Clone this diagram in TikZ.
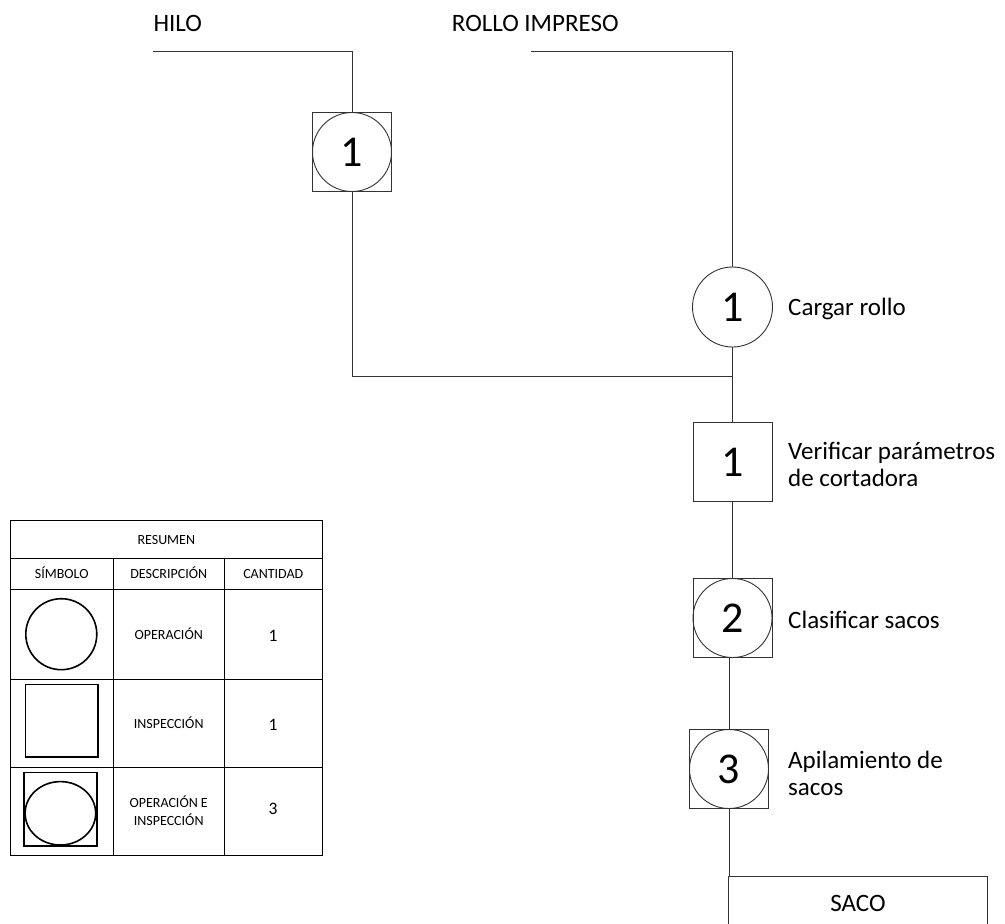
\documentclass[tikz,border=0pt]{standalone}
\usepackage{fontspec}
\setmainfont{Carlito}
\begin{document}
\begin{tikzpicture}[x=1pt,y=-1pt,
  flow/.style={draw=black!80, line width=0.9pt},
  sqbox/.style={flow, rectangle, minimum size=79pt, inner sep=0pt, font=\fontsize{44}{44}\selectfont},
  opcirc/.style={flow, circle, minimum size=80pt, inner sep=0pt, font=\fontsize{44}{44}\selectfont},
  lbl/.style={font=\fontsize{25}{27}\selectfont, align=left, inner sep=0pt},
  cell/.style={font=\fontsize{14}{18.4}\selectfont, align=center, inner sep=0pt, anchor=base},
  cellnum/.style={font=\fontsize{17.5}{18}\selectfont, inner sep=0pt, anchor=base},
  grid/.style={draw=black, line width=1pt},
  legend/.style={draw=black, line width=1.6pt}
]
\useasboundingbox (0,0) rectangle (1005,924);
\clip (0,0) rectangle (1005,924);

% raw material titles
\node[lbl, anchor=base west] (hilo) at (153.3,31.7) {HILO};
\node[lbl, anchor=base west] (rollo) at (451.7,31.7) {ROLLO IMPRESO};

% entry lines
\coordinate (h0) at (153,51);
\coordinate (h1) at (352,51);
\coordinate (r0) at (531,51);
\coordinate (r1) at (732.5,51);

% process symbols
\node[sqbox] (oi1) at (352,152) {1};
\draw[flow] (oi1.center) circle (39.5pt);
\node[opcirc] (op1) at (732.5,307) {1};
\coordinate (j) at (732.5,376);
\coordinate (jl) at (352,376);
\node[sqbox] (in1) at (732.5,462) {1};
\node[sqbox] (oi2) at (732.5,618) {2};
\draw[flow] (oi2.center) circle (39.5pt);
\node[sqbox] (oi3) at (729,769) {3};
\draw[flow] (oi3.center) circle (39.5pt);
\node[flow, rectangle, anchor=north west, minimum width=258.5pt, minimum height=54pt,
      inner sep=0pt, font=\fontsize{25}{27}\selectfont] (saco) at (728.3,875.7) {SACO};

% step descriptions (multi-line nodes sit on the baseline of their last line)
\node[lbl, anchor=base west] (t1) at (788,315.5) {Cargar rollo};
\node[lbl, anchor=base west] (t2) at (788,486.5) {Verificar parámetros\\de cortadora};
\node[lbl, anchor=base west] (t3) at (788,628.5) {Clasificar sacos};
\node[lbl, anchor=base west] (t4) at (788,795.5) {Apilamiento de\\sacos};

% connectors
\draw[flow] (h0) -- (h1) -- (oi1.north);
\draw[flow] (r0) -- (r1) -- (op1.north);
\draw[flow] (oi1.south) -- (jl) -- (j);
\draw[flow] (op1.south) -- (j) -- (in1.north);
\draw[flow] (in1.south) -- (oi2.north);
\draw[flow] (oi3.north) -- (oi3.north |- oi2.south);
\draw[flow] (oi3.south) -- (oi3.south |- saco.north);

% summary table
\draw[grid] (10,520.7) rectangle (322.7,855.7);
\draw[grid] (10,558.3) -- (322.7,558.3);
\draw[grid] (10,589.7) -- (322.7,589.7);
\draw[grid] (10,679) -- (322.7,679);
\draw[grid] (10,767.7) -- (322.7,767.7);
\draw[grid] (113.3,558.3) -- (113.3,855.7);
\draw[grid] (224,558.3) -- (224,855.7);

\node[cell] (resumen) at (166.3,544) {RESUMEN};
\node[cell] (hsim) at (61.7,578.8) {SÍMBOLO};
\node[cell] (hdes) at (168.7,578.8) {DESCRIPCIÓN};
\node[cell] (hcan) at (273.3,578.8) {CANTIDAD};

\draw[legend] (61.3,634.2) circle (35.5pt);
\node[cell] (d1) at (168.7,639) {OPERACIÓN};
\node[cellnum] (n1) at (273,641) {1};

\draw[legend] (25.3,684.3) rectangle (97.7,757);
\node[cell] (d2) at (168.7,728.3) {INSPECCIÓN};
\node[cellnum] (n2) at (273,730) {1};

\draw[legend] (24,772.3) rectangle (97,845.7);
\draw[legend] (60.4,813.3) ellipse (35.3pt and 31.7pt);
\node[cell] (d3) at (168.7,825.7) {OPERACIÓN E\\INSPECCIÓN};
\node[cellnum] (n3) at (273,814) {3};
\end{tikzpicture}
\end{document}
